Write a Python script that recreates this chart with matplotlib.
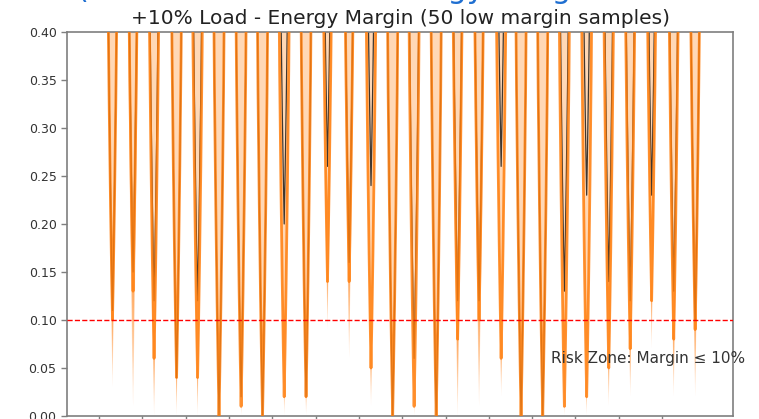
import matplotlib.pyplot as plt

# time (days) of the bottom of each discharge cycle
dip_day = [0.62, 1.57, 2.54, 3.58, 4.55, 5.54, 6.56, 7.55, 8.55, 9.56,
           10.55, 11.55, 12.56, 13.56, 14.55, 15.57, 16.56, 17.55, 18.57, 19.49,
           20.49, 21.49, 22.52, 23.54, 24.53, 25.52, 26.54, 27.53]

# median energy margin at the bottom of each cycle
median_min = [0.11, 0.15, 0.12, 0.04, 0.12, 0.00, 0.02, 0.00, 0.20, 0.02,
              0.26, 0.16, 0.24, 0.00, 0.06, 0.00, 0.12, 0.12, 0.26, 0.00,
              0.00, 0.13, 0.23, 0.14, 0.12, 0.23, 0.13, 0.10]

# lower edge of the dense part of the 50 samples
band_min = [0.10, 0.13, 0.06, 0.04, 0.04, 0.00, 0.01, 0.00, 0.02, 0.02,
            0.14, 0.14, 0.05, 0.00, 0.01, 0.00, 0.08, 0.10, 0.06, 0.00,
            0.00, 0.01, 0.02, 0.05, 0.07, 0.12, 0.08, 0.09]

# deepest sample in each cycle
tail_min = [0.03, 0.01, 0.00, 0.00, 0.00, 0.00, 0.00, 0.00, 0.00, 0.00,
            0.09, 0.06, 0.01, 0.00, 0.00, 0.00, 0.00, 0.01, 0.02, 0.00,
            0.00, 0.00, 0.00, 0.01, 0.02, 0.07, 0.02, 0.02]

# shape of one cycle: offset from the bottom (days) and margin regained
# at that offset
cycle_offset = [0.0, 0.04, 0.09, 0.15, 0.21, 0.26, 0.30, 0.50]
cycle_rise = [0.0, 0.05, 0.12, 0.22, 0.34, 0.48, 0.80, 0.80]

x_ticks = [0, 2, 4, 6, 8, 10, 12, 14, 16, 18, 20, 22, 24, 26]
y_ticks = [0.00, 0.05, 0.10, 0.15, 0.20, 0.25, 0.30, 0.35, 0.40]

orange = "#ff7f0e"


def cycle_curve(day, bottom):
    xs = [day - o for o in cycle_offset[::-1]] + [day + o for o in cycle_offset[1:]]
    rise = cycle_rise[::-1] + cycle_rise[1:]
    ys = [bottom + r for r in rise]
    return xs, ys


fig = plt.figure(figsize=(7.59, 4.19), dpi=100)
ax = fig.add_axes([0.0883, 0.0072, 0.8775, 0.9165])

for d, med, band, tail in zip(dip_day, median_min, band_min, tail_min):
    xs, band_curve = cycle_curve(d, band)
    top = max(band_curve)

    # faded spike of the few samples that go deeper than the band
    n_layers = 6
    for k in range(1, n_layers + 1):
        lo = band + (tail - band) * k / n_layers
        lx, lo_curve = cycle_curve(d, lo)
        ax.fill_between(lx, lo_curve, band_curve, color=orange, alpha=0.18, lw=0)

    # dense sample band
    ax.fill_between(xs, band_curve, top, color=orange, alpha=0.3, lw=0)

    # median sample
    mx, my = cycle_curve(d, med)
    ax.plot(mx, my, color="black", lw=0.9, alpha=0.75, zorder=2)

    ax.plot(xs, band_curve, color=orange, lw=2.0, alpha=0.85, zorder=3)

ax.axhline(0.10, color="red", ls="--", lw=1.0, zorder=4)
ax.text(20.88, 0.06, "Risk Zone: Margin \u2264 10%", fontsize=11,
        va="center", ha="left", color="#333333", zorder=5)

ax.set_xlim(-1.48, 29.28)
ax.set_ylim(0, 0.40)
ax.set_xticks(x_ticks)
ax.set_xticklabels([])
ax.set_yticks(y_ticks)
ax.set_yticklabels([f"{v:.2f}" for v in y_ticks])
ax.tick_params(labelsize=9, colors="#333333", length=4, width=1)
ax.tick_params(axis="both", color="#7f7f7f")
for s in ax.spines.values():
    s.set_color("#7f7f7f")
    s.set_linewidth(1.2)

ax.set_title("+10% Load - Energy Margin (50 low margin samples)", fontsize=14.5,
             color="#222222")

# slide heading above the chart, only its lower edge falls inside the image
fig.text(76 / 759, 1.005, "(", fontsize=22, color="#1f6fd1", va="baseline")
fig.text(378 / 759, 1.005, "Energy Margin", fontsize=22, color="#1f6fd1",
         va="baseline")

fig.savefig("out.png", dpi=100)
